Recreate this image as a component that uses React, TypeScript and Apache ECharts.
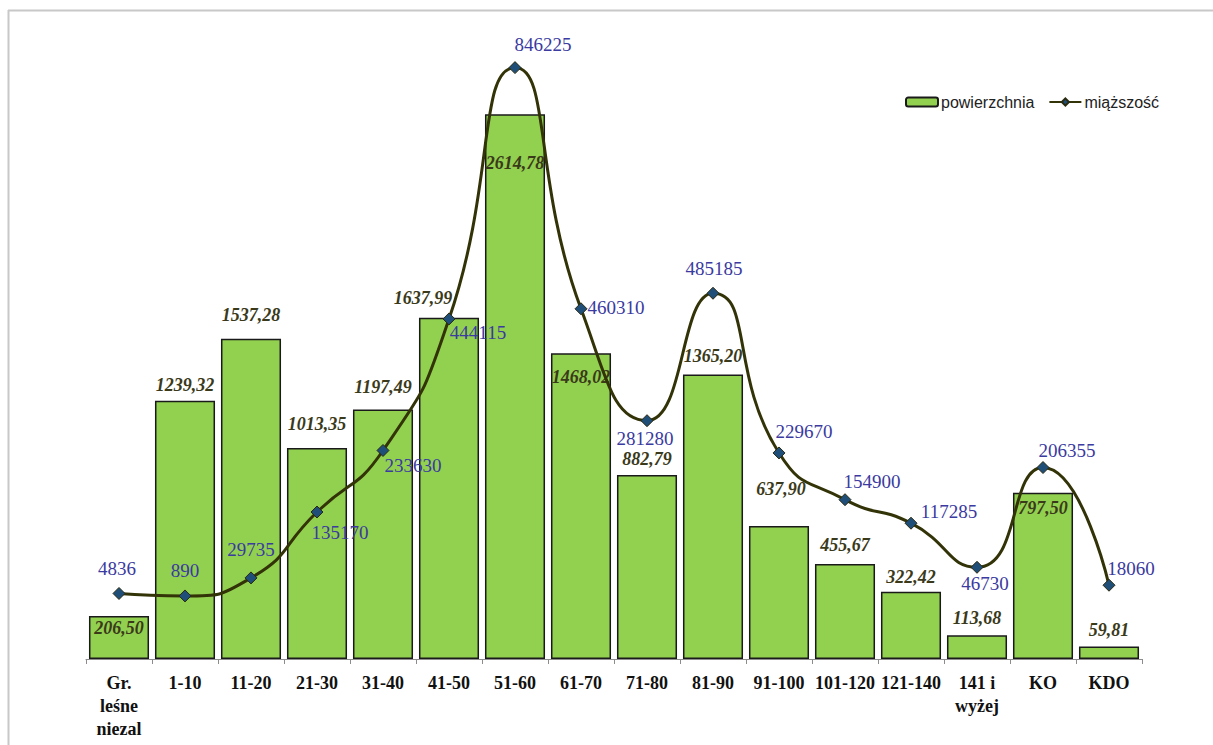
import React, { useEffect, useRef } from "react";
import * as echarts from "echarts";

const categories = [
  "Gr.\nleśne\nniezal", "1-10", "11-20", "21-30", "31-40", "41-50", "51-60", "61-70",
  "71-80", "81-90", "91-100", "101-120", "121-140", "141 i\nwyżej", "KO", "KDO",
];
const powierzchnia = [
  206.5, 1239.32, 1537.28, 1013.35, 1197.49, 1637.99, 2614.78, 1468.02,
  882.79, 1365.2, 637.9, 455.67, 322.42, 113.68, 797.5, 59.81,
];
const miazszosc = [
  4836, 890, 29735, 135170, 233630, 444115, 846225, 460310,
  281280, 485185, 229670, 154900, 117285, 46730, 206355, 18060,
];

// label placement (layout only)
const barLabelPos = [
  "insideTop", "top", "top", "top", "top", "top", "insideTop", "insideTop",
  "top", "top", "top", "top", "top", "top", "insideTop", "top",
];
const barLabelDist = [3, 7, 15, 15, 14, 11, 40, 15, 7, 10, 28, 10, 6, 8, 6, 8];
const barLabelDx = [0, 0, 0, 0, 0, -26, 0, 0, 0, 0, 2, 0, 0, 0, 0, 0];
const lineLabelOffset = [
  [-2, -25], [0, -25], [0, -28], [23, 20], [30, 15], [29, 14], [28, -23], [35, -1],
  [-2, 18], [1, -25], [25, -21], [27, -18], [38, -12], [8, 16], [24, -17], [22, -17],
];

const SERIF = "'Liberation Serif', 'Times New Roman', serif";

export default function App() {
  const ref = useRef<HTMLDivElement>(null);
  useEffect(() => {
    if (!ref.current) return;
    const chart = echarts.init(ref.current, undefined, { renderer: "svg" });
    const barData = powierzchnia.map((v, i) => ({
      value: v,
      label: {
        position: barLabelPos[i],
        distance: barLabelDist[i],
        offset: [barLabelDx[i], 0],
      },
    }));
    const lineData = miazszosc.map((v, i) => ({
      value: v,
      label: { position: "inside", offset: lineLabelOffset[i] },
    }));
    chart.setOption({
      animation: false,
      backgroundColor: "#ffffff",
      graphic: [
        {
          type: "line",
          shape: { x1: 8, y1: 10.5, x2: 1213, y2: 10.5 },
          style: { stroke: "#c8c8c8", lineWidth: 2 },
          silent: true,
        },
        {
          type: "line",
          shape: { x1: 8.5, y1: 10, x2: 8.5, y2: 745 },
          style: { stroke: "#c8c8c8", lineWidth: 2 },
          silent: true,
        },
      ],
      legend: {
        data: ["powierzchnia", "miąższość"],
        left: 900,
        top: 89,
        itemWidth: 32,
        itemHeight: 9,
        itemGap: 14,
        textStyle: {
          fontFamily: "'Liberation Sans', Arial, sans-serif",
          fontSize: 16,
          color: "#222222",
          padding: [0, 0, 0, -2],
        },
      },
      grid: { left: 86, right: 71, top: 34, bottom: 86 },
      xAxis: {
        type: "category",
        data: categories,
        boundaryGap: true,
        axisLine: { show: true, lineStyle: { color: "#8c8c8c", width: 1 } },
        axisTick: { show: true, length: 5, lineStyle: { color: "#8c8c8c" } },
        axisLabel: {
          interval: 0,
          margin: 12,
          fontFamily: SERIF,
          fontWeight: "bold",
          fontSize: 18,
          lineHeight: 23,
          color: "#111111",
        },
      },
      yAxis: [
        { type: "value", min: 0, max: 3000, interval: 300, show: false },
        { type: "value", min: -100000, max: 900000, interval: 100000, show: false },
      ],
      series: [
        {
          name: "powierzchnia",
          type: "bar",
          yAxisIndex: 0,
          barCategoryGap: "9%",
          data: barData,
          itemStyle: { color: "#92d050", borderColor: "#1a1a1a", borderWidth: 1.5 },
          label: {
            show: true,
            formatter: (p: any) => Number(p.value).toFixed(2).replace(".", ","),
            fontFamily: SERIF,
            fontStyle: "italic",
            fontWeight: "bold",
            fontSize: 18,
            lineHeight: 18,
            color: "#3a3a1a",
          },
          z: 2,
        },
        {
          name: "miąższość",
          type: "line",
          yAxisIndex: 1,
          data: lineData,
          smooth: 0.55,
          symbol: "diamond",
          symbolSize: 12,
          lineStyle: { color: "#333308", width: 3 },
          itemStyle: { color: "#1f4e79", borderColor: "#2a2a10", borderWidth: 1 },
          label: {
            show: true,
            fontFamily: SERIF,
            fontSize: 19,
            lineHeight: 19,
            color: "#3a3aa0",
            align: "center",
            verticalAlign: "middle",
          },
          z: 3,
        },
      ],
    });
    return () => chart.dispose();
  }, []);
  return (
    <div
      ref={ref}
      style={{ position: "absolute", left: 0, top: 0, width: 1213, height: 745 }}
    />
  );
}
